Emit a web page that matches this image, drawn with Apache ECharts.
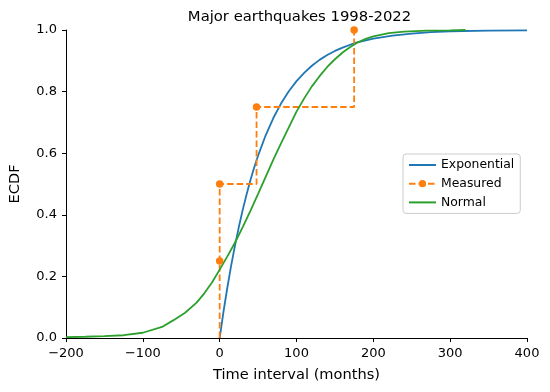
<!DOCTYPE html>
<html><head><meta charset="utf-8">
<script src="https://cdn.jsdelivr.net/npm/echarts@6/dist/echarts.min.js"></script>
<style>html,body{margin:0;padding:0;background:#fff}#c{width:550px;height:392px}</style>
</head><body><div id="c"></div>
<script>
const titleText = "Major earthquakes 1998-2022";
const xLabel = "Time interval (months)";
const yLabel = "ECDF";
const seriesNames = ["Exponential", "Measured", "Normal"];

const expX = [0,5,10,15,20,25,30,35,40,45,50,60,70,80,90,100,110,120,130,140,150,160,175,200,225,250,275,300,350,400];
const expY = [0,0.086,0.164,0.236,0.301,0.361,0.416,0.466,0.512,0.554,0.592,0.659,0.715,0.762,0.801,0.834,0.861,0.884,0.903,0.919,0.932,0.943,0.957,0.972,0.982,0.988,0.993,0.996,0.998,0.999];

const measX = [0,0,0,48,175];
const measY = [0,0.25,0.5,0.75,1.0];

const normX = [-200,-175,-150,-125,-100,-75,-60,-45,-30,-20,-10,0,10,20,30,40,50,60,70,80,90,100,110,120,130,140,150,160,170,180,190,200,220,240,270,300,320];
const normY = [0.003,0.004,0.006,0.009,0.017,0.036,0.058,0.082,0.115,0.145,0.18,0.222,0.265,0.31,0.36,0.413,0.468,0.524,0.58,0.633,0.684,0.735,0.778,0.817,0.85,0.88,0.905,0.927,0.945,0.96,0.971,0.979,0.99,0.995,0.998,0.999,1.0];

const xTicks = {min:-200, max:400, interval:100};
const yTicks = {min:0, max:1, interval:0.2};

const zip = (a,b) => a.map((v,i)=>[v,b[i]]);
const font = "DejaVu Sans";
const hideSym = {color:'rgba(0,0,0,0)',borderWidth:0,borderColor:'rgba(0,0,0,0)'};
const chart = echarts.init(document.getElementById('c'), null, {renderer:'canvas'});
chart.setOption({
  animation:false,
  backgroundColor:'#fff',
  title:{text:titleText,left:294.5,textAlign:'center',top:5,textStyle:{fontFamily:font,fontSize:14.8,fontWeight:'normal',color:'#000'}},
  grid:{left:62,right:23,top:30,bottom:54,containLabel:false},
  legend:{orient:'vertical',left:403,top:154,
    data:[{name:seriesNames[0],itemStyle:hideSym},{name:seriesNames[1]},{name:seriesNames[2],itemStyle:hideSym}],
    backgroundColor:'rgba(255,255,255,0.8)',borderColor:'#cccccc',borderWidth:1,borderRadius:3,
    padding:[4,6,4,5],itemGap:4.7,itemWidth:27,itemHeight:9,
    textStyle:{fontFamily:font,fontSize:12.4,color:'#000',lineHeight:14}},
  xAxis:{type:'value',min:xTicks.min,max:xTicks.max,interval:xTicks.interval,
    name:xLabel,nameLocation:'middle',nameGap:30,nameTextStyle:{fontFamily:font,fontSize:14.6,color:'#000'},
    axisLine:{onZero:false,lineStyle:{color:'#000',width:1}},
    axisTick:{show:true,length:4,lineStyle:{color:'#000'}},
    axisLabel:{fontFamily:font,fontSize:13,color:'#000',margin:9,formatter:v=>String(v).replace('-','\u2212')},
    splitLine:{show:false}},
  yAxis:{type:'value',min:yTicks.min,max:yTicks.max,interval:yTicks.interval,
    name:yLabel,nameLocation:'middle',nameGap:43,nameTextStyle:{fontFamily:font,fontSize:14.6,color:'#000'},
    axisLine:{show:true,onZero:false,lineStyle:{color:'#000',width:1}},
    axisTick:{show:true,length:4,lineStyle:{color:'#000'}},
    axisLabel:{fontFamily:font,fontSize:13,color:'#000',margin:9,formatter:v=>v.toFixed(1)},
    splitLine:{show:false}},
  series:[
    {name:seriesNames[0],type:'line',data:zip(expX,expY),showSymbol:false,symbol:'none',
      lineStyle:{color:'#1f77b4',width:1.8},itemStyle:{color:'#1f77b4'}},
    {name:seriesNames[1],type:'line',step:'end',data:zip(measX,measY).map((p,i)=>i===0?{value:p,symbol:'none'}:{value:p}),
      symbol:'circle',symbolSize:7.5,showSymbol:true,
      lineStyle:{color:'#ff7f0e',width:1.8,type:[6.5,3]},itemStyle:{color:'#ff7f0e'}},
    {name:seriesNames[2],type:'line',data:zip(normX,normY),showSymbol:false,symbol:'none',
      lineStyle:{color:'#2ca02c',width:1.8},itemStyle:{color:'#2ca02c'}}
  ]
});
</script></body></html>
